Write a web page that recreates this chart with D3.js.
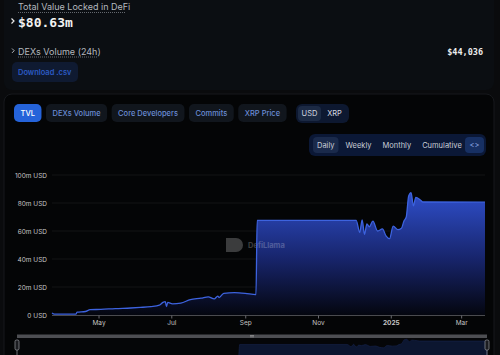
<!DOCTYPE html>
<html>
<head>
<meta charset="utf-8">
<script src="https://cdn.jsdelivr.net/npm/d3@7"></script>
<style>
  html, body { margin: 0; padding: 0; background: #0a0b0d; overflow: hidden; }
  #container { width: 500px; height: 355px; }
  text { font-family: Inter, "Noto Sans", sans-serif; }
</style>
</head>
<body>
<div id="container"></div>
<script>
// chart data (TVL in millions of USD)
var dates = ["2024-03-23","2024-03-25","2024-04-12","2024-04-13","2024-04-20","2024-04-24","2024-05-03","2024-05-15",
	"2024-05-28","2024-06-05","2024-06-14","2024-06-21","2024-06-24","2024-06-26","2024-06-27","2024-06-28",
	"2024-07-02","2024-07-09","2024-07-17","2024-07-26","2024-08-01","2024-08-06","2024-08-09","2024-08-10",
	"2024-08-14","2024-08-23","2024-09-01","2024-09-10","2024-09-11","2024-12-03","2024-12-06","2024-12-08",
	"2024-12-10","2024-12-12","2024-12-14","2024-12-17","2024-12-21","2024-12-25","2024-12-28","2024-12-31",
	"2025-01-03","2025-01-07","2025-01-10","2025-01-12","2025-01-14","2025-01-16","2025-01-18","2025-01-20",
	"2025-01-22","2025-01-26","2025-01-28","2025-03-21"];
var tvl = [1.4,0.6,0.6,2.0,2.5,3.8,4.0,4.6,
	5.0,5.4,6.0,7.0,9.0,9.5,6.0,9.0,
	8.0,8.5,11.0,12.0,13.0,11.5,13.5,12.5,
	15.5,16.0,15.5,14.5,67.6,67.6,59,68,
	57.6,65,63,67,60,61.5,56.5,54.5,
	63.5,61,62,67,70,85,87.4,78,
	84,82,80.7,80.6];

var yTicks = [0, 20, 40, 60, 80, 100];
var yTickLabels = ["0 USD", "20m USD", "40m USD", "60m USD", "80m USD", "100m USD"];
var xTicks = ["2024-05-01", "2024-07-01", "2024-09-01", "2024-11-01", "2025-01-01", "2025-03-01"];
var xTickLabels = ["May", "Jul", "Sep", "Nov", "2025", "Mar"];

var tabLabels = ["TVL", "DEXs Volume", "Core Developers", "Commits", "XRP Price"];
var currencyLabels = ["USD", "XRP"];
var periodLabels = ["Daily", "Weekly", "Monthly", "Cumulative", "<>"];

var headerTitle = "Total Value Locked in DeFi";
var headerValue = "$80.63m";
var dexLabel = "DEXs Volume (24h)";
var dexValue = "$44,036";

var TvlChart = function(config) {
	this.config = config;
	var parse = d3.timeParse("%Y-%m-%d");
	this.series = dates.map(function(d, i) { return { date: parse(d), value: tvl[i] }; });
	this.parse = parse;

	var svg = this.drawCanvas(config);
	this.drawHeader(svg);
	this.drawTabs(svg);
	this.drawPlot(svg);
	this.drawBrush(svg);
};

TvlChart.prototype.drawCanvas = function(config) {
	var svg = d3.select(config.container).append("svg")
		.attr("width", config.width)
		.attr("height", config.height);

	svg.append("rect").attr("width", config.width).attr("height", config.height).attr("fill", "#0a0b0d");
	// top card
	svg.append("rect").attr("x", 4).attr("y", -10).attr("width", 490).attr("height", 100)
		.attr("rx", 8).attr("fill", "#0b0e12");
	// chart panel
	svg.append("rect").attr("x", 4).attr("y", 94).attr("width", 490).attr("height", 280)
		.attr("rx", 8).attr("fill", "#040506").attr("stroke", "#17191d");
	return svg;
};

TvlChart.prototype.drawHeader = function(svg) {
	var mono = "'DejaVu Sans Mono', monospace";

	svg.append("text").attr("x", 18).attr("y", 10)
		.style("font-size", "9px").attr("fill", "#b4b8bf")
		.text(headerTitle);
	svg.append("line").attr("x1", 18).attr("x2", 125).attr("y1", 12.5).attr("y2", 12.5)
		.attr("stroke", "#8a8e95").attr("stroke-width", 0.7).style("stroke-dasharray", "1,1");

	svg.append("path").attr("d", "M11.5,18.5 L14,21 L11.5,23.5")
		.attr("fill", "none").attr("stroke", "#e8e8e8").attr("stroke-width", 1.2);
	svg.append("text").attr("x", 18).attr("y", 26.5)
		.style("font-family", mono).style("font-size", "13px").style("font-weight", "bold")
		.attr("fill", "#f2f2f2").text(headerValue);

	svg.append("path").attr("d", "M12,48.5 L14.2,50.7 L12,52.9")
		.attr("fill", "none").attr("stroke", "#aeb2b8").attr("stroke-width", 1);
	svg.append("text").attr("x", 18).attr("y", 54.5)
		.style("font-size", "9px").attr("fill", "#b4b8bf")
		.text(dexLabel);
	svg.append("line").attr("x1", 18).attr("x2", 97).attr("y1", 57).attr("y2", 57)
		.attr("stroke", "#8a8e95").attr("stroke-width", 0.7).style("stroke-dasharray", "1,1");

	svg.append("text").attr("x", 483).attr("y", 54.5).attr("text-anchor", "end")
		.style("font-family", mono).style("font-size", "8.5px").style("font-weight", "bold")
		.attr("fill", "#ececec").text(dexValue);

	svg.append("rect").attr("x", 12).attr("y", 62).attr("width", 66).attr("height", 20)
		.attr("rx", 5).attr("fill", "#0f1a31");
	svg.append("text").attr("x", 18).attr("y", 75)
		.style("font-size", "7.5px").style("font-weight", 600)
		.attr("fill", "#2c5bc4").text("Download .csv");
};

TvlChart.prototype.drawTabs = function(svg) {
	var x = 14;
	var tabs = svg.append("g");
	tabLabels.forEach(function(label, i) {
		var g = tabs.append("g");
		var rect = g.append("rect").attr("y", 104).attr("height", 18).attr("rx", 5)
			.attr("fill", i === 0 ? "#2563d9" : "#11161d");
		var t = g.append("text").attr("y", 116).style("font-size", "7.5px")
			.style("font-weight", 500)
			.attr("fill", i === 0 ? "#ffffff" : "#6a8cd4").text(label);
		var w = t.node().getComputedTextLength() + 13;
		rect.attr("x", x).attr("width", w);
		t.attr("x", x + 6.5);
		x += w + 4.5;
	});

	// USD / XRP switch
	var gx = 296;
	var sw = svg.append("g");
	sw.append("rect").attr("x", gx).attr("y", 104).attr("width", 53).attr("height", 19).attr("rx", 6).attr("fill", "#0d1830");
	var cx = gx + 2;
	currencyLabels.forEach(function(label, i) {
		var r = sw.append("rect").attr("y", 106).attr("height", 15).attr("rx", 4)
			.attr("fill", i === 0 ? "#1c2a44" : "none");
		var t = sw.append("text").attr("y", 116).style("font-size", "7.5px")
			.attr("text-anchor", "middle")
			.attr("fill", "#d5d9e0").text(label);
		r.attr("x", cx).attr("width", 23);
		t.attr("x", cx + 11.5);
		cx += 25;
	});

	// period toggle, right aligned
	var pg = svg.append("g");
	var px = 313;
	pg.append("rect").attr("x", 309).attr("y", 134).attr("width", 177).attr("height", 22).attr("rx", 6).attr("fill", "#0b1836");
	periodLabels.forEach(function(label, i) {
		var r = pg.append("rect").attr("y", 137).attr("height", 16).attr("rx", 4)
			.attr("fill", i === 0 ? "#1a2a4b" : (i === 4 ? "#173063" : "none"));
		var t = pg.append("text").attr("y", 148).style("font-size", "7.5px")
			.attr("fill", i === 4 ? "#8aa6e0" : "#c9ced6").text(label);
		var w = t.node().getComputedTextLength() + 8;
		if (i === 4) { px = 465; w = 19; t.attr("text-anchor", "middle"); t.attr("x", px + w / 2); }
		else { t.attr("x", px + 4); }
		r.attr("x", px).attr("width", w);
		px += w + 3;
	});
};

TvlChart.prototype.drawPlot = function(svg) {
	var c = this.config;
	var parse = this.parse;
	var x = d3.scaleTime()
		.domain([this.series[0].date, this.series[this.series.length - 1].date])
		.range([c.left, c.right]);
	var y = d3.scaleLinear().domain([0, 100]).range([c.bottom, c.top]);
	this.x = x;

	var defs = svg.append("defs");
	var grad = defs.append("linearGradient").attr("id", "tvlGrad")
		.attr("gradientUnits", "userSpaceOnUse")
		.attr("x1", 0).attr("x2", 0).attr("y1", y(88)).attr("y2", y(0));
	grad.append("stop").attr("offset", "0%").attr("stop-color", "#2f4fcc");
	grad.append("stop").attr("offset", "55%").attr("stop-color", "#17246a");
	grad.append("stop").attr("offset", "100%").attr("stop-color", "#04060f");

	// grid
	svg.append("g").selectAll("line").data(yTicks).enter().append("line")
		.attr("x1", c.left).attr("x2", c.right)
		.attr("y1", function(d) { return y(d); }).attr("y2", function(d) { return y(d); })
		.attr("stroke", "#17181b").attr("stroke-width", 0.8);

	var area = d3.area().x(function(d) { return x(d.date); })
		.y0(y(0)).y1(function(d) { return y(d.value); }).curve(d3.curveMonotoneX);
	var line = d3.line().x(function(d) { return x(d.date); })
		.y(function(d) { return y(d.value); }).curve(d3.curveMonotoneX);

	svg.append("path").datum(this.series).attr("d", area).attr("fill", "url(#tvlGrad)");

	// watermark
	var wm = svg.append("g").attr("opacity", 0.22);
	wm.append("path").attr("d", "M226,238 h10 a7,7 0 0 1 0,14 h-10 z").attr("fill", "#ffffff");
	wm.append("text").attr("x", 248).attr("y", 247.5).style("font-size", "7.5px").style("font-weight", "bold")
		.attr("fill", "#ffffff").text("DefiLlama");

	svg.append("path").datum(this.series).attr("d", line)
		.attr("fill", "none").attr("stroke", "#3d63df").attr("stroke-width", 1.3);

	// y axis
	var yAxis = d3.axisLeft(y).tickValues(yTicks).tickSize(0).tickPadding(5)
		.tickFormat(function(d, i) { return yTickLabels[i]; });
	var ya = svg.append("g").attr("transform", "translate(" + c.left + ",0)").call(yAxis);
	ya.select(".domain").remove();
	ya.selectAll("text").style("font-size", "6.5px").style("font-family", "Inter, sans-serif").attr("fill", "#c4c4c4");

	// x axis
	var xAxis = d3.axisBottom(x).tickValues(xTicks.map(function(d) { return parse(d); }))
		.tickSize(3).tickPadding(2)
		.tickFormat(function(d, i) { return xTickLabels[i]; });
	var xa = svg.append("g").attr("transform", "translate(0," + (c.bottom + 0.5) + ")").call(xAxis);
	xa.select(".domain").attr("stroke", "#4a4b4f").attr("d", "M" + c.left + ",0H" + c.right);
	xa.selectAll(".tick line").attr("stroke", "#6a6b70");
	xa.selectAll("text").style("font-size", "6.5px").style("font-family", "Inter, sans-serif").attr("fill", "#c4c4c4")
		.style("font-weight", function(d, i) { return xTickLabels[i] === "2025" ? "bold" : "normal"; });
};

TvlChart.prototype.drawBrush = function(svg) {
	var c = this.config;
	var bx = d3.scaleTime().domain(this.x.domain()).range([c.brushLeft, c.brushRight]);
	var by = d3.scaleLinear().domain([0, 100]).range([362, 336]);

	svg.append("rect").attr("x", c.brushLeft).attr("y", 336).attr("width", c.brushRight - c.brushLeft)
		.attr("height", 24).attr("fill", "#050608");

	var area = d3.area().x(function(d) { return bx(d.date); })
		.y0(by(0)).y1(function(d) { return by(d.value); }).curve(d3.curveMonotoneX);
	svg.append("path").datum(this.series).attr("d", area)
		.attr("fill", "#0c1630").attr("stroke", "#16244e").attr("stroke-width", 0.6);

	svg.append("rect").attr("x", c.brushLeft).attr("y", 334.5).attr("width", c.brushRight - c.brushLeft)
		.attr("height", 3.5).attr("fill", "#4d4e52");
	svg.append("rect").attr("x", 250).attr("y", 335.4).attr("width", 4).attr("height", 0.6).attr("fill", "#aaa");
	svg.append("rect").attr("x", 250).attr("y", 336.6).attr("width", 4).attr("height", 0.6).attr("fill", "#aaa");

	[c.brushLeft, c.brushRight].forEach(function(hx) {
		svg.append("rect").attr("x", hx - 2).attr("y", 340).attr("width", 4).attr("height", 10)
			.attr("rx", 1.5).attr("fill", "#1b1c20").attr("stroke", "#9a9ba0").attr("stroke-width", 0.7);
		svg.append("line").attr("x1", hx).attr("x2", hx).attr("y1", 350).attr("y2", 356)
			.attr("stroke", "#9a9ba0").attr("stroke-width", 0.7);
	});
};

new TvlChart({
	container: "#container",
	width: 500,
	height: 355,
	left: 52,
	right: 485,
	top: 175,
	bottom: 315,
	brushLeft: 17,
	brushRight: 487
});
</script>
</body>
</html>
